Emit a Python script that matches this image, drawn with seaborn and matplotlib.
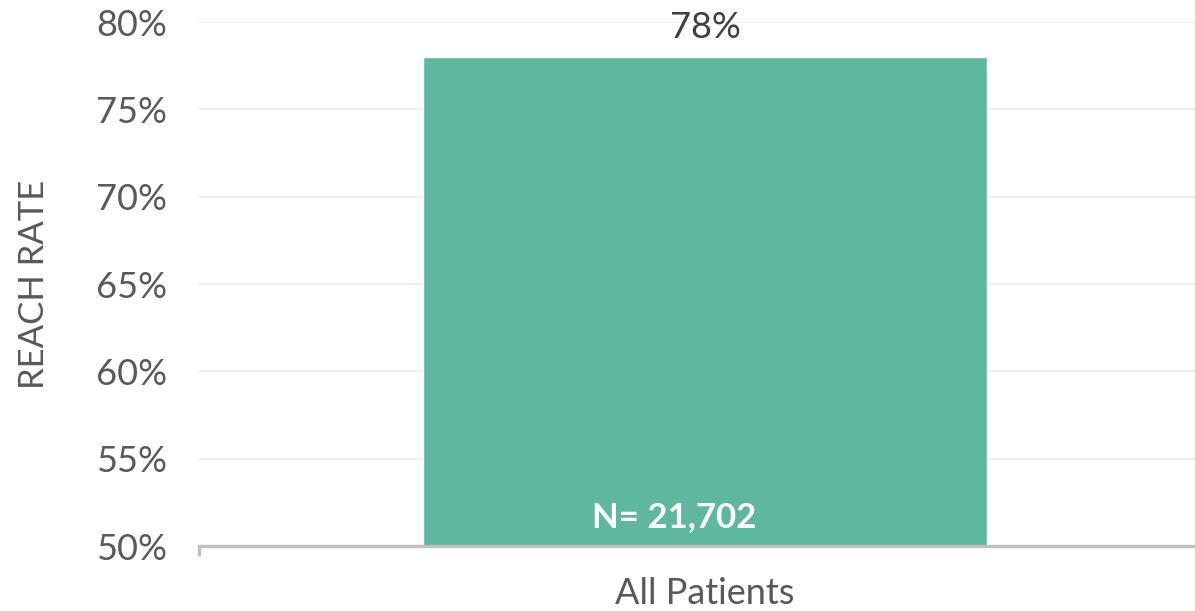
import matplotlib
matplotlib.use("Agg")
import matplotlib.pyplot as plt
import seaborn as sns
import pandas as pd

# Data
categories = ["All Patients"]
reach_rate = [0.78]
n_labels = ["N= 21,702"]
y_ticks = [0.50, 0.55, 0.60, 0.65, 0.70, 0.75, 0.80]
y_tick_labels = ["50%", "55%", "60%", "65%", "70%", "75%", "80%"]

df = pd.DataFrame({"group": categories, "rate": reach_rate})

sns.set_theme(style="white")
plt.rcParams["font.family"] = ["Lato", "DejaVu Sans"]

fig = plt.figure(figsize=(11.95, 6.11), dpi=100)
ax = fig.add_axes([199 / 1195, 1 - 546 / 611, 1 - 199 / 1195, (546 - 22) / 611])

bar_color = "#5fb7a0"
sns.barplot(data=df, x="group", y="rate", color=bar_color, saturation=1,
            width=0.566, ax=ax, zorder=3)

ax.set_ylim(0.5, 0.8)
ax.set_xlim(-0.508, 0.492)
ax.set_yticks(y_ticks)
ax.set_yticklabels(y_tick_labels)
ax.yaxis.grid(True, color="#efefef", linewidth=1.6, zorder=0)
ax.set_axisbelow(True)

for s in ["top", "right", "left"]:
    ax.spines[s].set_visible(False)
ax.spines["bottom"].set_color("#c0c0c0")
ax.spines["bottom"].set_linewidth(2.4)
ax.spines["bottom"].set_zorder(4)

ax.tick_params(axis="y", length=0, labelsize=26, labelcolor="#595959", pad=23)
ax.tick_params(axis="x", length=0, labelsize=26, labelcolor="#595959", pad=22)

# short stub below the baseline at the left end of the axis
ax.plot([0, 0], [0, -0.02], transform=ax.transAxes, color="#c0c0c0",
        linewidth=2.4, clip_on=False, solid_capstyle="butt", zorder=4)

ax.set_xlabel("")
ax.set_ylabel("REACH RATE", fontsize=25, color="#595959", labelpad=33)

for i, (v, n) in enumerate(zip(reach_rate, n_labels)):
    ax.annotate(f"{v:.0%}", xy=(i, v), xytext=(0, 9), textcoords="offset points",
                ha="center", va="bottom", fontsize=26, color="#404040")
    ax.annotate(n, xy=(i, 0.5), xytext=(-22, 9), textcoords="offset points",
                ha="center", va="bottom", fontsize=25, fontweight="bold",
                color="white", zorder=5)

fig.savefig("out.png", dpi=100, facecolor="white")
